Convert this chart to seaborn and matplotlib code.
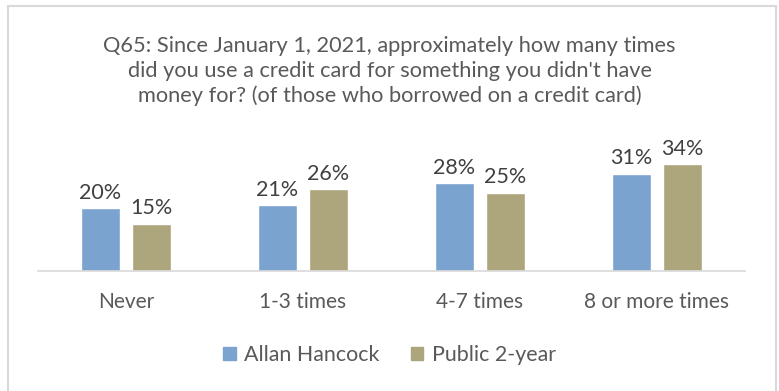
import matplotlib
matplotlib.use("Agg")
import matplotlib.pyplot as plt
import seaborn as sns
import pandas as pd
from matplotlib.patches import Rectangle

categories = ["Never", "1-3 times", "4-7 times", "8 or more times"]
allan_hancock = [20, 21, 28, 31]
public_2year = [15, 26, 25, 34]
series_names = ["Allan Hancock", "Public 2-year"]
title = ("Q65: Since January 1, 2021, approximately how many times\n"
         "did you use a credit card for something you didn't have\n"
         "money for? (of those who borrowed on a credit card)")

sns.set_theme(style="white")
plt.rcParams['font.family'] = ['Lato', 'DejaVu Sans']

df = pd.DataFrame({
    "category": categories * 2,
    "value": allan_hancock + public_2year,
    "series": [series_names[0]] * 4 + [series_names[1]] * 4,
})

W, H = 779, 391
fig = plt.figure(figsize=(W / 100, H / 100), dpi=100)
ax = fig.add_axes([37.5 / W, (H - 271) / H, 708 / W, 124 / H])

colors = ["#7BA3D0", "#ADA57C"]
sns.barplot(data=df, x="category", y="value", hue="series", order=categories,
            hue_order=series_names, palette=colors, width=0.576, gap=0.22,
            ax=ax, legend=False, saturation=1)

for cont in ax.containers:
    ax.bar_label(cont, labels=[f"{v:.0f}%" for v in cont.datavalues],
                 padding=4, fontsize=15.5, color="#404040")

ax.set_ylim(0, 39.5)
ax.set_xlim(-0.5, 3.5)
ax.set_xlabel("")
ax.set_ylabel("")
ax.set_yticks([])
for s in ["top", "right", "left"]:
    ax.spines[s].set_visible(False)
ax.spines["bottom"].set_color("#D9D9D9")
ax.spines["bottom"].set_linewidth(1.2)
ax.tick_params(axis="x", length=0, pad=15, labelsize=15, labelcolor="#595959")

fig.text(0.5, (H - 71) / H, title, ha="center", va="center", fontsize=15.7,
         color="#595959", linespacing=1.3)

handles = [Rectangle((0, 0), 1, 1, color=c) for c in colors]
fig.legend(handles, series_names, loc="center", bbox_to_anchor=(0.5, (H - 355) / H),
           ncol=2, frameon=False, fontsize=15.4, handlelength=0.6, handleheight=0.6,
           handletextpad=0.4, columnspacing=1.45, labelcolor="#595959")

border = Rectangle((8 / W, -0.05), (776 - 8) / W, (H - 6) / H + 0.05,
                   transform=fig.transFigure, fill=False, edgecolor="#D9D9D9",
                   linewidth=1.5, clip_on=False)
fig.patches.append(border)

fig.savefig("out.png", dpi=100)
